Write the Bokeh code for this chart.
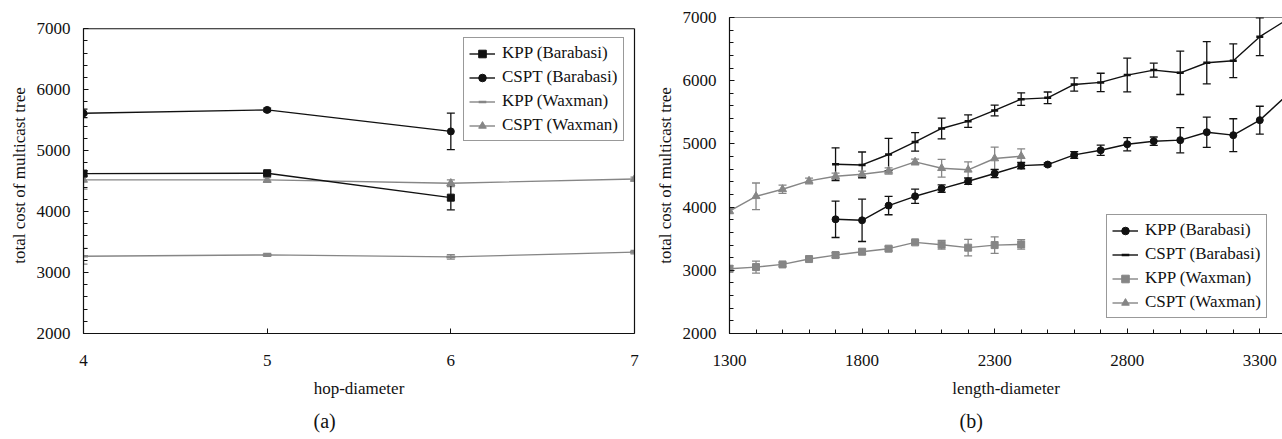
from bokeh.plotting import figure
from bokeh.layouts import row
from bokeh.models import (ColumnDataSource, Whisker, TeeHead, Legend, LegendItem,
                          FixedTicker, Range1d, Span, Title, LinearAxis)
from bokeh.embed import file_html
from bokeh.resources import INLINE

# ---------------- data: panel (a) ----------------
hop_x = [4, 5, 6, 7]
hop_x_bara = [4, 5, 6]
kpp_bara_a = [4624, 4630, 4229]
kpp_bara_a_err = [50, 30, 200]
cspt_bara_a = [5613, 5669, 5316]
cspt_bara_a_err = [70, 30, 300]
kpp_wax_a = [3268, 3290, 3257, 3335]
kpp_wax_a_err = [130, 25, 35, 30]
cspt_wax_a = [4520, 4520, 4466, 4535]
cspt_wax_a_err = [150, 40, 55, 30]

# ---------------- data: panel (b) ----------------
len_x_wax = [1300, 1400, 1500, 1600, 1700, 1800, 1900, 2000, 2100, 2200, 2300, 2400]
kpp_wax_b = [3025, 3051, 3093, 3178, 3241, 3294, 3342, 3442, 3405, 3358, 3399, 3410]
kpp_wax_b_err = [50, 95, 30, 30, 40, 40, 35, 30, 70, 130, 130, 75]
cspt_wax_b = [3938, 4171, 4282, 4414, 4488, 4520, 4572, 4715, 4615, 4590, 4769, 4805]
cspt_wax_b_err = [40, 210, 65, 45, 50, 50, 50, 45, 140, 125, 180, 115]

len_x_bara = [1700, 1800, 1900, 2000, 2100, 2200, 2300, 2400, 2500,
              2600, 2700, 2800, 2900, 3000, 3100, 3200, 3300, 3400]
kpp_bara_b = [3807, 3791, 4024, 4171, 4293, 4409, 4531, 4657, 4673,
              4826, 4900, 4995, 5043, 5059, 5185, 5138, 5376, 5760]
kpp_bara_b_err = [288, 335, 145, 113, 58, 50, 65, 50, 25,
                  53, 82, 105, 66, 200, 240, 260, 220, 225]
cspt_bara_b = [4678, 4667, 4832, 5032, 5244, 5360, 5529, 5708, 5729,
               5941, 5973, 6089, 6168, 6125, 6284, 6315, 6696, 6960]
cspt_bara_b_err = [260, 205, 255, 145, 165, 98, 85, 100, 92,
                   105, 145, 267, 110, 343, 335, 267, 300, 285]

y_ticks = [2000, 3000, 4000, 5000, 6000, 7000]
y_minor = list(range(2000, 7001, 200))
hop_ticks = [4, 5, 6, 7]
len_ticks = [1300, 1800, 2300, 2800, 3300]
len_minor = list(range(1300, 3401, 100))

FONT = "Liberation Serif"
BLACK = "#111111"
GRAY = "#868686"


def style(p):
    p.grid.visible = False
    p.background_fill_color = "white"
    p.border_fill_color = "white"
    for ax in list(p.xaxis) + list(p.yaxis):
        ax.axis_line_color = BLACK
        ax.axis_line_width = 1.2
        ax.major_tick_in = 5
        ax.major_tick_out = 0
        ax.minor_tick_in = 4
        ax.minor_tick_out = 0
        ax.major_tick_line_color = BLACK
        ax.minor_tick_line_color = BLACK
        ax.major_label_text_font = FONT
        ax.major_label_text_font_size = "17px"
        ax.major_label_text_color = BLACK
        ax.axis_label_text_font = FONT
        ax.axis_label_text_font_size = "17px"
        ax.axis_label_text_font_style = "normal"
        ax.axis_label_text_color = BLACK
    for ax in p.yaxis:
        ax.major_label_standoff = 13
        ax.axis_label_standoff = 5
    for ax in p.xaxis:
        ax.major_label_standoff = 21
        ax.axis_label_standoff = 10


def series(p, xs, ys, errs, color, marker, size):
    src = ColumnDataSource(dict(x=xs, y=ys,
                                lo=[y - e for y, e in zip(ys, errs)],
                                hi=[y + e for y, e in zip(ys, errs)]))
    w = Whisker(source=src, base="x", upper="hi", lower="lo",
                line_color=color, line_width=1.3,
                upper_head=TeeHead(size=8, line_color=color, line_width=1.3),
                lower_head=TeeHead(size=8, line_color=color, line_width=1.3))
    p.add_layout(w)
    l = p.line("x", "y", source=src, line_color=color, line_width=1.4)
    if marker == "dash":
        s = p.scatter("x", "y", source=src, marker="dash", size=size,
                      line_color=color, line_width=2.5)
    else:
        s = p.scatter("x", "y", source=src, marker=marker, size=size,
                      fill_color=color, line_color=color)
    return [l, s]


def make_legend(items, loc):
    lg = Legend(items=[LegendItem(label=t, renderers=r) for t, r in items],
                location=loc, orientation="vertical")
    lg.label_text_font = FONT
    lg.label_text_font_size = "17px"
    lg.label_text_color = BLACK
    lg.glyph_width = 26
    lg.glyph_height = 19
    lg.label_height = 19
    lg.label_standoff = 7
    lg.spacing = 4
    lg.padding = 5
    lg.margin = 0
    lg.border_line_color = "#333333"
    lg.border_line_width = 1
    lg.background_fill_color = "white"
    lg.background_fill_alpha = 1
    return lg


def caption(p, text, offset):
    t = Title(text=text, align="left", offset=offset, standoff=14,
              text_font=FONT, text_font_size="20px", text_font_style="normal",
              text_color=BLACK)
    p.add_layout(t, "below")


H = 439
TOP = 17
BOTTOM = 106

# ---------------- panel (a) ----------------
pa = figure(width=652, height=H, x_range=Range1d(4, 7), y_range=Range1d(2000, 7185),
            output_backend="svg", toolbar_location=None,
            min_border_left=83, min_border_right=18, min_border_top=TOP,
            min_border_bottom=BOTTOM)
pa.outline_line_color = None
pa.xaxis.ticker = FixedTicker(ticks=hop_ticks)
pa.yaxis.ticker = FixedTicker(ticks=y_ticks, minor_ticks=y_minor)
pa.yaxis.bounds = (2000, 7000)
pa.xaxis.axis_label = "hop-diameter"
pa.yaxis.axis_label = "total cost of multicast tree"
right_ax = LinearAxis(bounds=(2000, 7000), ticker=FixedTicker(ticks=[]),
                      major_label_text_alpha=0, axis_line_color=BLACK, axis_line_width=1.2,
                      major_tick_line_color=None, minor_tick_line_color=None)
pa.add_layout(right_ax, "right")
style(pa)
pa.add_layout(Span(location=7000, dimension="width", line_color=BLACK, line_width=1.2))

ra1 = series(pa, hop_x, kpp_wax_a, kpp_wax_a_err, GRAY, "dash", 9)
ra2 = series(pa, hop_x, cspt_wax_a, cspt_wax_a_err, GRAY, "triangle", 8)
ra3 = series(pa, hop_x_bara, kpp_bara_a, kpp_bara_a_err, BLACK, "square", 7)
ra4 = series(pa, hop_x_bara, cspt_bara_a, cspt_bara_a_err, BLACK, "circle", 7)
pa.add_layout(make_legend([("KPP (Barabasi)", ra3), ("CSPT (Barabasi)", ra4),
                           ("KPP (Waxman)", ra1), ("CSPT (Waxman)", ra2)], (380, 192)))
caption(pa, "(a)", 230)

# ---------------- panel (b) ----------------
pb = figure(width=630, height=H, x_range=Range1d(1300, 3385.6), y_range=Range1d(2000, 7000),
            output_backend="svg", toolbar_location=None,
            min_border_left=77, min_border_right=0, min_border_top=TOP,
            min_border_bottom=BOTTOM)
pb.outline_line_color = None
pb.xaxis.ticker = FixedTicker(ticks=len_ticks, minor_ticks=len_minor)
pb.yaxis.ticker = FixedTicker(ticks=y_ticks, minor_ticks=y_minor)
pb.xaxis.axis_label = "length-diameter"
pb.yaxis.axis_label = "total cost of multicast tree"
style(pb)
pb.add_layout(Span(location=7000, dimension="width", line_color=BLACK, line_width=1.2))

rb1 = series(pb, len_x_wax, kpp_wax_b, kpp_wax_b_err, GRAY, "square", 7)
rb2 = series(pb, len_x_wax, cspt_wax_b, cspt_wax_b_err, GRAY, "triangle", 8)
rb3 = series(pb, len_x_bara, kpp_bara_b, kpp_bara_b_err, BLACK, "circle", 7)
rb4 = series(pb, len_x_bara, cspt_bara_b, cspt_bara_b_err, BLACK, "dash", 7)
pb.add_layout(make_legend([("KPP (Barabasi)", rb3), ("CSPT (Barabasi)", rb4),
                           ("KPP (Waxman)", rb1), ("CSPT (Waxman)", rb2)], (377, 15)))
caption(pb, "(b)", 230)

layout = row(pa, pb)
open("out.html", "w").write(file_html(layout, INLINE))
